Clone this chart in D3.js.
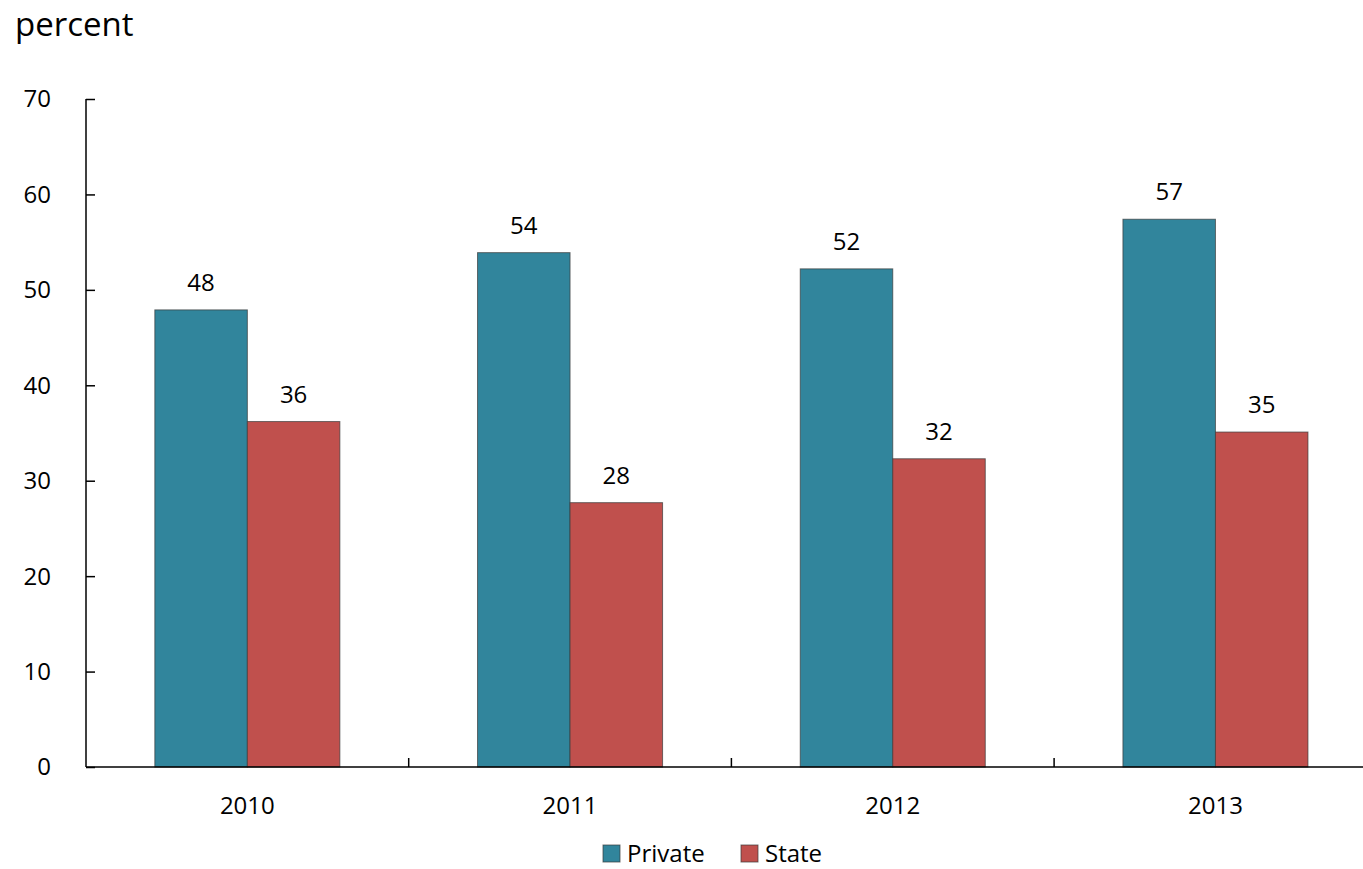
<!DOCTYPE html>
<html>
<head>
<meta charset="utf-8">
<script src="https://cdn.jsdelivr.net/npm/d3@7"></script>
<style>
html,body{margin:0;padding:0;background:#fff;}
svg{display:block;font-family:"Open Sans",sans-serif;}
</style>
</head>
<body>
<svg id="chart" width="1363" height="869"></svg>
<script>
const categories = ["2010", "2011", "2012", "2013"];
const seriesNames = ["Private", "State"];
const privateValues = [47.9, 53.9, 52.2, 57.4];
const stateValues = [36.2, 27.7, 32.3, 35.1];
const yTicks = [0, 10, 20, 30, 40, 50, 60, 70];
const colors = ["#31859C", "#C0504D"];

(function () {
const series = [privateValues, stateValues];
const svg = d3.select("#chart");
const plotLeft = 86, plotBottom = 767, plotTop = 99;
const step = 322.7;
const fs = 24;

const x0 = d3.scaleBand().domain(categories).range([plotLeft, plotLeft + step * categories.length]).paddingInner(0).paddingOuter(0);
const x1 = d3.scaleBand().domain(seriesNames).range([0, x0.bandwidth()]).paddingInner(0).paddingOuter(0.744);
const y = d3.scaleLinear().domain([0, 70]).range([plotBottom, plotTop]);

// bars
categories.forEach((c, i) => {
  seriesNames.forEach((s, j) => {
    const v = series[j][i];
    svg.append("rect")
      .attr("x", x0(c) + x1(s))
      .attr("y", y(v))
      .attr("width", x1.bandwidth())
      .attr("height", y(0) - y(v))
      .attr("fill", colors[j])
      .attr("stroke", "#3a3a3a")
      .attr("stroke-opacity", 0.7)
      .attr("stroke-width", 1);
    svg.append("text")
      .attr("x", x0(c) + x1(s) + x1.bandwidth() / 2)
      .attr("y", y(v) - 19)
      .attr("text-anchor", "middle")
      .attr("font-size", fs)
      .attr("fill", "#000")
      .text(Math.round(v));
  });
});

// y axis
const yAxis = d3.axisRight(y).tickValues(yTicks).tickSize(9).tickFormat("");
const gy = svg.append("g").attr("transform", `translate(${plotLeft},0)`).call(yAxis);
gy.select(".domain").attr("stroke", "#000").attr("stroke-width", 1.5).attr("d", `M0,${plotTop}V${plotBottom}`);
gy.selectAll(".tick line").attr("stroke", "#000").attr("stroke-width", 1.5);
yTicks.forEach(t => {
  svg.append("text").attr("x", 51).attr("y", y(t)).attr("dy", "0.35em")
    .attr("text-anchor", "end").attr("font-size", fs).attr("fill", "#000").text(t);
});

// x axis
svg.append("line").attr("x1", plotLeft).attr("x2", 1363).attr("y1", plotBottom).attr("y2", plotBottom)
  .attr("stroke", "#000").attr("stroke-width", 1.5);
categories.slice(1).forEach(c => {
  svg.append("line").attr("x1", x0(c)).attr("x2", x0(c)).attr("y1", plotBottom).attr("y2", plotBottom - 9)
    .attr("stroke", "#000").attr("stroke-width", 1.5);
});
categories.forEach(c => {
  svg.append("text").attr("x", x0(c) + x0.bandwidth() / 2).attr("y", 814)
    .attr("text-anchor", "middle").attr("font-size", fs).attr("fill", "#000").text(c);
});

// unit label
svg.append("text").attr("x", 15).attr("y", 36).attr("font-size", 33).attr("fill", "#000").text("percent");

// legend
const legendX = [603, 741];
seriesNames.forEach((s, j) => {
  svg.append("rect").attr("x", legendX[j]).attr("y", 845).attr("width", 17).attr("height", 17)
    .attr("fill", colors[j]).attr("stroke", "#3a3a3a").attr("stroke-opacity", 0.7);
  svg.append("text").attr("x", legendX[j] + 24).attr("y", 862).attr("font-size", fs).attr("fill", "#000").text(s);
});
})();
</script>
</body>
</html>
